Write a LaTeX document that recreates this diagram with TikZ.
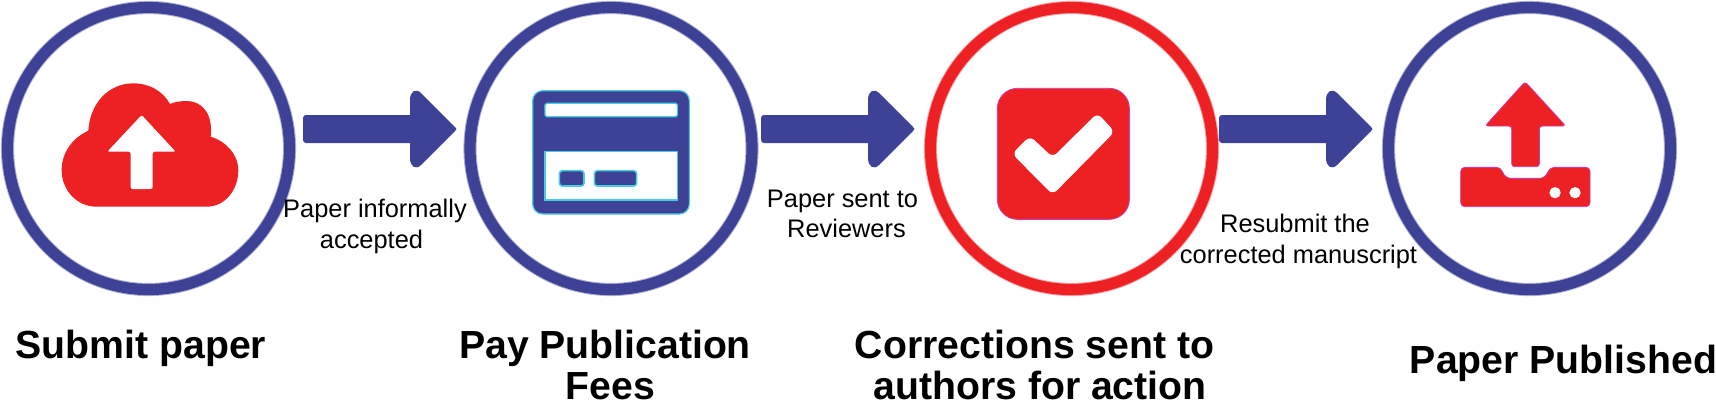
\documentclass[tikz,border=0pt]{standalone}
\usepackage{fontspec}
\setmainfont{Liberation Sans}
\usetikzlibrary{calc}
\definecolor{navy}{RGB}{62,66,150}
\definecolor{redc}{RGB}{237,32,36}
\definecolor{cyanedge}{RGB}{70,205,225}
\definecolor{pinkedge}{RGB}{205,60,170}
\tikzset{
  ring/.style={circle,draw=#1,line width=5.6pt,minimum size=141pt,inner sep=0pt,outer sep=0pt,
    preaction={draw=#1,draw opacity=0.4,line width=6.6pt}},
  small/.style={anchor=base,inner sep=0pt,font=\fontsize{12.7}{15}\selectfont,text=black},
  title/.style={anchor=base,inner sep=0pt,font=\fontsize{19.6}{23}\selectfont\bfseries,text=black}
}
\newcommand{\blockarrow}[1]{%
  \begin{scope}[shift={(#1)}]
  \fill[navy,rounded corners=1.5pt] (0,-14) rectangle (112,14);
  \fill[navy] (107,-29) .. controls (107,-38) and (113,-41) .. (118,-36) -- (152,-2) .. controls (154,-0.5) and (154,0.5) .. (152,2) -- (118,36) .. controls (113,41) and (107,38) .. (107,29) -- cycle;
  \end{scope}}
\begin{document}
\begin{tikzpicture}[x=0.5pt,y=-0.5pt]
\useasboundingbox (0,0) rectangle (1716,404);
% rings
\node[ring=navy] (c1) at (148.5,148.5) {};
\node[ring=navy] (c2) at (611,148.5) {};
\node[ring=redc] (c3) at (1071.5,148.5) {};
\node[ring=navy] (c4) at (1529.5,148.5) {};
% arrows
\coordinate (a1) at ($(c1.east)+(13.5,-19.5)$);
\coordinate (a2) at ($(c2.east)+(9,-19.5)$);
\coordinate (a3) at ($(c3.east)+(6.5,-19.5)$);
\blockarrow{a1}
\blockarrow{a2}
\blockarrow{a3}
% cloud
\begin{scope}[x=0.16667pt,y=-0.16667pt]
  \fill[redc] (290,620) .. controls (230,620) and (185,570) .. (185,510) .. controls (185,460) and (215,415) .. (265,392) .. controls (270,310) and (325,250) .. (400,250) .. controls (450,250) and (490,275) .. (510,312) .. controls (525,305) and (545,303) .. (560,303) .. controls (605,303) and (640,340) .. (632,410) .. controls (680,425) and (715,465) .. (715,510) .. controls (715,570) and (675,620) .. (620,620) -- cycle;
  \fill[white,rounded corners=1pt] (425,345) -- (322,455) -- (392,455) -- (392,567) -- (458,567) -- (458,455) -- (527,455) -- cycle;
\end{scope}
% card
\begin{scope}[x=0.16667pt,y=-0.16667pt,shift={(1260,0)}]
  \filldraw[draw=cyanedge,fill=navy,line width=0.6pt,rounded corners=5pt] (338,272) rectangle (808,642);
  \filldraw[draw=cyanedge,fill=white,line width=0.6pt,rounded corners=0.8pt] (375,310) rectangle (772,350);
  \filldraw[draw=cyanedge,fill=white,line width=0.6pt] (375,455) rectangle (772,600);
  \filldraw[draw=cyanedge,fill=navy,line width=0.8pt,rounded corners=1.5pt] (418,512) rectangle (492,558);
  \filldraw[draw=cyanedge,fill=navy,line width=0.8pt,rounded corners=1.5pt] (523,512) rectangle (650,558);
\end{scope}
% check
\begin{scope}[x=0.16667pt,y=-0.16667pt,shift={(2520,0)}]
  \filldraw[draw=pinkedge,fill=redc,line width=0.4pt,rounded corners=10pt] (472,265) rectangle (868,658);
  \fill[white,rounded corners=3pt] (516,461) -- (570,408) -- (638,472) -- (772,339) -- (824,395) -- (638,584) -- cycle;
\end{scope}
% upload
\begin{scope}[x=0.16667pt,y=-0.16667pt,shift={(3780,0)}]
  \filldraw[draw=pinkedge,fill=redc,line width=0.4pt,rounded corners=1.5pt] (795,245) -- (675,378) -- (755,378) -- (755,500) -- (838,500) -- (838,378) -- (917,378) -- cycle;
  \filldraw[draw=pinkedge,fill=redc,line width=0.4pt,rounded corners=2pt] (602,502) -- (722,502) .. controls (732,530) and (745,535) .. (765,535) -- (828,535) .. controls (850,535) and (860,525) .. (870,502) -- (990,502) -- (990,620) -- (602,620) -- cycle;
  \fill[white] (885,578) circle (17);
  \fill[white] (945,578) circle (17);
\end{scope}
% small labels
\node[small] (l1a) at (375,217) {Paper informally};
\node[small] (l1b) at (371.5,248) {accepted};
\node[small] (l2a) at (842.5,207) {Paper sent to};
\node[small] (l2b) at (846.5,237) {Reviewers};
\node[small] (l3a) at (1295,232) {Resubmit the};
\node[small] (l3b) at (1298.5,263) {corrected manuscript};
% titles
\node[title] (t1) at (141,358) {Submit paper};
\node[title] (t2a) at (605,358) {Pay Publication};
\node[title] (t2b) at (610.5,399) {Fees};
\node[title] (t3a) at (1034.5,358) {Corrections sent to};
\node[title] (t3b) at (1040,399) {authors for action};
\node[title] (t4) at (1563.5,373) {Paper Published};
\end{tikzpicture}
\end{document}
